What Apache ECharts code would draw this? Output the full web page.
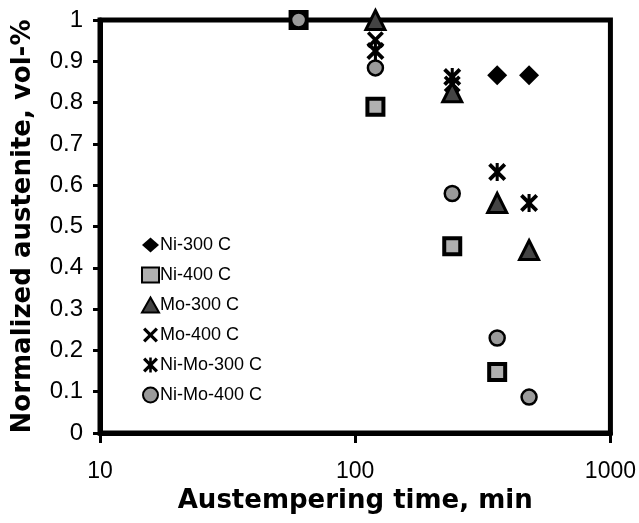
<!DOCTYPE html>
<html>
<head>
<meta charset="utf-8">
<script src="https://cdn.jsdelivr.net/npm/echarts@6/dist/echarts.min.js"></script>
<style>
  html, body { margin: 0; padding: 0; background: #fff; }
  #chart { width: 639px; height: 523px; }
</style>
</head>
<body>
<div id="chart"></div>
<script>
// austempering times, min
const times = [60, 120, 240, 360, 480]
// normalized austenite per series (null = no point)
const ni300 = [null, null, null, 0.866, 0.866]
const ni400 = [1.0, 0.79, 0.452, 0.148, null]
const mo300 = [null, 1.0, 0.825, 0.557, 0.443]
const mo400 = [null, 0.952, 0.845, null, null]
const niMo300 = [null, 0.925, 0.862, 0.632, 0.557]
const niMo400 = [1.0, 0.884, 0.58, 0.23, 0.087]

const xTicks = [10, 100, 1000]

const crossPath = 'path://M0,3 L3,0 L10,7 L17,0 L20,3 L13,10 L20,17 L17,20 L10,13 L3,20 L0,17 L7,10 Z'
const starPath = 'path://M0,3 L3,0 L10,7 L17,0 L20,3 L13,10 L20,17 L17,20 L10,13 L3,20 L0,17 L7,10 Z M8.3,0 L11.7,0 L11.7,20 L8.3,20 Z'

const pairs = (vals) => times.map((t, i) => [t, vals[i]]).filter(p => p[1] !== null)

const mk = (name, vals, symbol, size, itemStyle) => ({
  name,
  type: 'scatter',
  data: pairs(vals),
  symbol,
  symbolSize: size,
  itemStyle: Object.assign({ opacity: 1 }, itemStyle),
  clip: false,
  z: 3,
})

const chart = echarts.init(document.getElementById('chart'))

const option = {
  animation: false,
  grid: { left: 100, right: 28, top: 20, bottom: 90, show: true, borderColor: '#000', borderWidth: 5 },
  legend: {
    orient: 'vertical',
    left: 136,
    top: 231,
    itemWidth: 17,
    itemHeight: 15,
    itemGap: 12,
    textStyle: { fontFamily: 'Liberation Sans', fontSize: 18, color: '#000', padding: [0, 0, 0, -4] },
    data: ['Ni-300 C', 'Ni-400 C', 'Mo-300 C', 'Mo-400 C', 'Ni-Mo-300 C', 'Ni-Mo-400 C'],
  },
  xAxis: {
    type: 'log',
    logBase: 10,
    min: 10,
    max: 1000,
    name: 'Austempering time, min',
    nameLocation: 'middle',
    nameGap: 50,
    nameTextStyle: { fontFamily: 'DejaVu Sans', fontWeight: 'bold', fontSize: 26, color: '#000' },
    axisLine: { lineStyle: { color: '#000', width: 5 } },
    axisTick: { show: true, length: 10, lineStyle: { color: '#000', width: 3 } },
    minorTick: { show: false },
    splitLine: { show: false },
    axisLabel: {
      margin: 27,
      fontFamily: 'Liberation Sans',
      fontSize: 23,
      color: '#000',
      formatter: v => xTicks.includes(Math.round(v)) ? String(Math.round(v)) : '',
    },
  },
  yAxis: {
    type: 'value',
    min: 0,
    max: 1,
    interval: 0.1,
    name: 'Normalized austenite, vol-%',
    nameLocation: 'middle',
    nameGap: 64,
    nameTextStyle: { fontFamily: 'DejaVu Sans', fontWeight: 'bold', fontSize: 26, color: '#000' },
    axisLine: { show: true, lineStyle: { color: '#000', width: 5 } },
    axisTick: { show: true, length: 7, lineStyle: { color: '#000', width: 3 } },
    splitLine: { show: false },
    axisLabel: {
      margin: 17,
      fontFamily: 'Liberation Sans',
      fontSize: 24,
      color: '#000',
      formatter: v => String(Math.round(v * 10) / 10),
    },
  },
  series: [
    mk('Ni-300 C', ni300, 'diamond', 20, { color: '#000' }),
    mk('Ni-400 C', ni400, 'rect', 16, { color: '#b0b0b0', borderColor: '#000', borderWidth: 4 }),
    mk('Mo-300 C', mo300, 'triangle', 19, { color: '#444', borderColor: '#000', borderWidth: 3 }),
    mk('Mo-400 C', mo400, crossPath, 17, { color: '#000' }),
    mk('Ni-Mo-300 C', niMo300, starPath, 18, { color: '#000' }),
    mk('Ni-Mo-400 C', niMo400, 'circle', 15, { color: '#9a9a9a', borderColor: '#000', borderWidth: 2.5 }),
  ],
}

chart.setOption(option)
</script>
</body>
</html>
